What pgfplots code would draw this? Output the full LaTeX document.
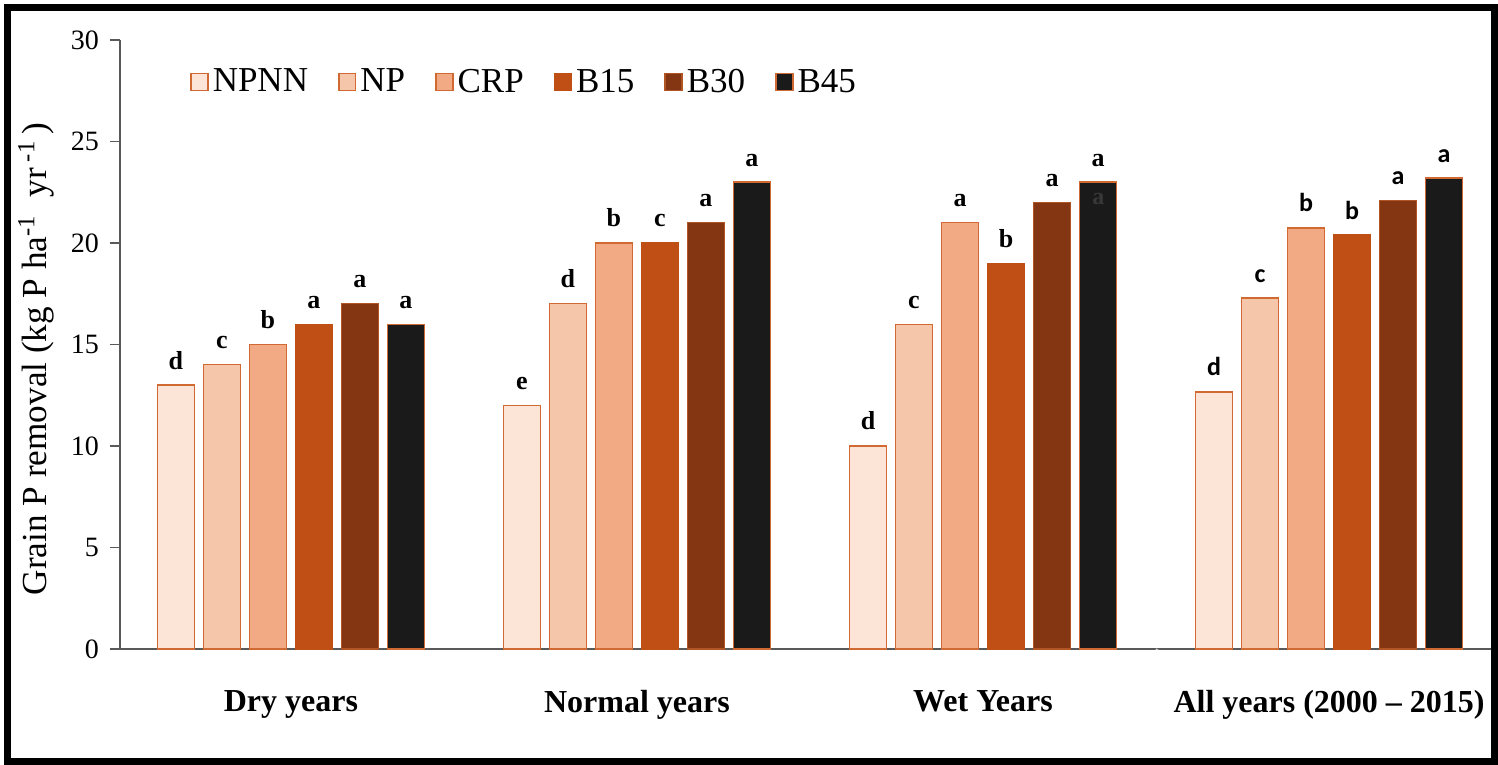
\documentclass[border=0pt]{standalone}
\usepackage{fontspec}
\setmainfont{Liberation Serif}
\newfontfamily\calfont{Carlito}
\usepackage{pgfplots}
\pgfplotsset{compat=1.18}
\definecolor{cA}{HTML}{FCE4D6}
\definecolor{cB}{HTML}{F6C6AA}
\definecolor{cC}{HTML}{F1AA84}
\definecolor{cD}{HTML}{C04F15}
\definecolor{cE}{HTML}{843511}
\definecolor{cF}{HTML}{1A1A1A}
\definecolor{edge}{HTML}{D06A32}
\definecolor{axg}{HTML}{595959}
\newcommand\allf[1]{{\calfont\bfseries #1}}
\begin{document}
\begin{tikzpicture}
\useasboundingbox (-60pt,-58pt) rectangle (689pt,324.5pt);
\begin{axis}[
  scale only axis,
  width=686pt, height=304.5pt,
  xmin=-0.494, xmax=3.471,
  ymin=0, ymax=30,
  ybar=4.5pt, bar width=18.5pt,
  axis x line*=bottom, axis y line*=left,
  axis line style={axg, line width=0.8pt},
  xtick={0,1,2,3},
  xticklabels={Dry years, Normal years, Wet Years, All years (2000 -- 2015)},
  x tick style={draw=none},
  xticklabel style={font=\fontsize{16}{19}\selectfont\bfseries, yshift=-12pt},
  ytick={0,5,...,30},
  y tick style={axg, line width=0.8pt},
  tick align=outside,
  major tick length=5pt,
  yticklabel style={font=\fontsize{14}{16}\selectfont, xshift=-2pt},
  /pgf/number format/assume math mode=true,
  ylabel={Grain P removal (kg P ha\textsuperscript{-1}\,\,\,yr\,\textsuperscript{-1}\,)},
  ylabel style={at={(axis description cs:-0.061,0.476)}, anchor=center, rotate=0, font=\fontsize{17.6}{20}\selectfont},
  point meta=explicit symbolic,
  nodes near coords,
  every node near coord/.append style={anchor=base, yshift=8pt, font=\fontsize{13}{15}\selectfont\bfseries, text=black},
  legend columns=6,
  legend style={at={(axis description cs:0.051,0.931)}, anchor=west, draw=none, fill=none,
    font=\fontsize{17.5}{20}\selectfont, inner sep=0pt,
    /tikz/every even column/.append style={column sep=13pt}},
  legend image code/.code={\draw[#1, line width=0.8pt] (0pt,-4.3pt) rectangle (8.4pt,4.3pt);},
  legend cell align=left,
]
\addplot[fill=cA, draw=edge, line width=0.6pt] coordinates {(0,13) [d] (1,12) [e] (2,10) [d] (3,12.66) [\allf{d}]};
\addplot[fill=cB, draw=edge, line width=0.6pt] coordinates {(0,14) [c] (1,17) [d] (2,16) [c] (3,17.29) [\allf{c}]};
\addplot[fill=cC, draw=edge, line width=0.6pt] coordinates {(0,15) [b] (1,20) [b] (2,21) [a] (3,20.74) [\allf{b}]};
\addplot[fill=cD, draw=cD, line width=0.6pt] coordinates {(0,16) [a] (1,20) [c] (2,19) [b] (3,20.39) [\allf{b}]};
\addplot[fill=cE, draw=edge!60!cE, line width=0.6pt] coordinates {(0,17) [a] (1,21) [a] (2,22) [a] (3,22.08) [\allf{a}]};
\addplot[fill=cF, draw=edge, line width=0.6pt] coordinates {(0,16) [a] (1,23) [a] (2,23) [a] (3,23.2) [\allf{a}]};
\legend{NPNN, NP, CRP, B15, B30, B45}
\node[text=black!78, font=\fontsize{12}{14}\selectfont\bfseries, anchor=base] at (axis cs:2.3335,21.9) {a};
\draw[black!20, line width=0.8pt] (axis cs:2.5,0) -- ++(0,-56pt);
\end{axis}
\draw[line width=3.5pt] (-56pt,-56pt) rectangle (687.2pt,320.5pt);
\end{tikzpicture}
\end{document}
